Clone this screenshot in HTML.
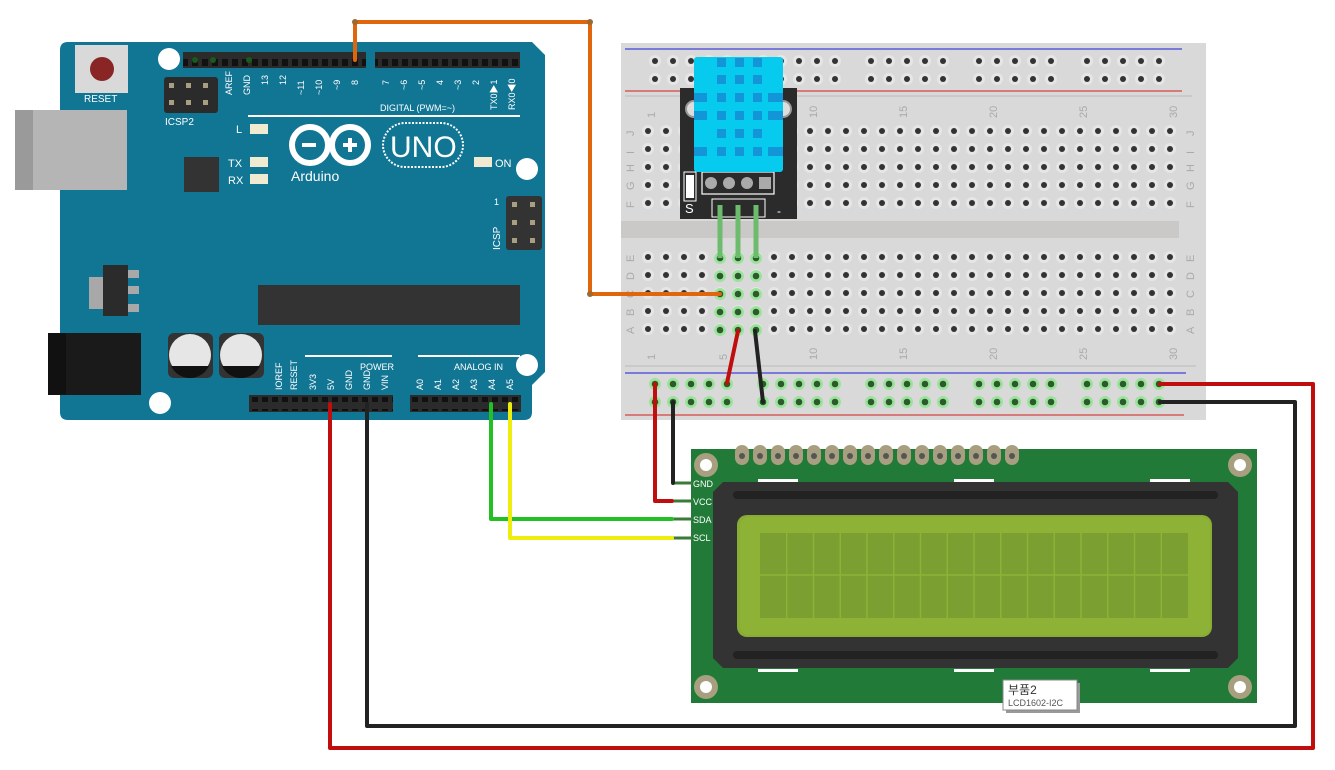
<!DOCTYPE html>
<html><head><meta charset="utf-8"><style>
html,body{margin:0;padding:0;background:#fff;}
svg{display:block;}
text{font-family:"Liberation Sans","Noto Sans CJK KR",sans-serif;}
</style></head><body>
<svg width="1335" height="770" viewBox="0 0 1335 770" xmlns="http://www.w3.org/2000/svg">
<defs>
<pattern id="h" x="639" y="122" width="18" height="18" patternUnits="userSpaceOnUse">
 <circle cx="9" cy="9" r="6" fill="#e6e6e6"/><circle cx="9" cy="9" r="3" fill="#333"/>
</pattern>
<pattern id="r" x="646" y="52" width="108" height="18" patternUnits="userSpaceOnUse">
 <g fill="#e6e6e6"><circle cx="9" cy="9" r="6"/><circle cx="27" cy="9" r="6"/><circle cx="45" cy="9" r="6"/><circle cx="63" cy="9" r="6"/><circle cx="81" cy="9" r="6"/></g>
 <g fill="#333"><circle cx="9" cy="9" r="3"/><circle cx="27" cy="9" r="3"/><circle cx="45" cy="9" r="3"/><circle cx="63" cy="9" r="3"/><circle cx="81" cy="9" r="3"/></g>
</pattern>
<pattern id="rg" x="646" y="375" width="108" height="18" patternUnits="userSpaceOnUse">
 <g fill="#9be39b"><circle cx="9" cy="9" r="6"/><circle cx="27" cy="9" r="6"/><circle cx="45" cy="9" r="6"/><circle cx="63" cy="9" r="6"/><circle cx="81" cy="9" r="6"/></g>
 <g fill="#2d5a2d"><circle cx="9" cy="9" r="3.3"/><circle cx="27" cy="9" r="3.3"/><circle cx="45" cy="9" r="3.3"/><circle cx="63" cy="9" r="3.3"/><circle cx="81" cy="9" r="3.3"/></g>
</pattern>
<pattern id="gh" x="711" y="249" width="18" height="18" patternUnits="userSpaceOnUse">
 <circle cx="9" cy="9" r="6" fill="#9be39b"/><circle cx="9" cy="9" r="3.3" fill="#2d5a2d"/>
</pattern>
<pattern id="pin" x="0" y="0" width="10" height="14" patternUnits="userSpaceOnUse">
 <rect x="2" y="3" width="6" height="7" fill="#111"/>
</pattern>
</defs>

<!-- breadboard -->
<rect x="621" y="43" width="585" height="377" fill="#d9d9d9"/>
<line x1="625" y1="49" x2="1182" y2="49" stroke="#1a1adc" stroke-width="1"/>
<line x1="625" y1="91" x2="1182" y2="91" stroke="#d41a1a" stroke-width="1"/>
<line x1="625" y1="96" x2="1192" y2="96" stroke="#bbb" stroke-width="1"/>
<rect x="646" y="52" width="530" height="36" fill="url(#r)"/>
<rect x="621" y="221" width="558" height="17" fill="#cbc9c7"/>
<rect x="639" y="122" width="540" height="90" fill="url(#h)"/>
<rect x="639" y="249" width="540" height="90" fill="url(#h)"/>
<rect x="711" y="249" width="54" height="90" fill="url(#gh)"/>
<line x1="625" y1="366" x2="1196" y2="366" stroke="#bbb" stroke-width="1"/>
<line x1="625" y1="373" x2="1186" y2="373" stroke="#1a1adc" stroke-width="1"/>
<line x1="625" y1="415" x2="1184" y2="415" stroke="#d41a1a" stroke-width="1"/>
<rect x="646" y="375" width="530" height="36" fill="url(#rg)"/>
<g fill="#aaa" font-size="11">
 <g transform="translate(655,118) rotate(-90)"><text>1</text></g>
 <g transform="translate(727,118) rotate(-90)"><text>5</text></g>
 <g transform="translate(817,118) rotate(-90)"><text>10</text></g>
 <g transform="translate(907,118) rotate(-90)"><text>15</text></g>
 <g transform="translate(997,118) rotate(-90)"><text>20</text></g>
 <g transform="translate(1087,118) rotate(-90)"><text>25</text></g>
 <g transform="translate(1177,118) rotate(-90)"><text>30</text></g>
 <g transform="translate(655,360) rotate(-90)"><text>1</text></g>
 <g transform="translate(727,360) rotate(-90)"><text>5</text></g>
 <g transform="translate(817,360) rotate(-90)"><text>10</text></g>
 <g transform="translate(907,360) rotate(-90)"><text>15</text></g>
 <g transform="translate(997,360) rotate(-90)"><text>20</text></g>
 <g transform="translate(1087,360) rotate(-90)"><text>25</text></g>
 <g transform="translate(1177,360) rotate(-90)"><text>30</text></g>
 <g transform="translate(634,136) rotate(-90)"><text>J</text></g>
 <g transform="translate(634,154) rotate(-90)"><text>I</text></g>
 <g transform="translate(634,172) rotate(-90)"><text>H</text></g>
 <g transform="translate(634,190) rotate(-90)"><text>G</text></g>
 <g transform="translate(634,208) rotate(-90)"><text>F</text></g>
 <g transform="translate(634,262) rotate(-90)"><text>E</text></g>
 <g transform="translate(634,280) rotate(-90)"><text>D</text></g>
 <g transform="translate(634,298) rotate(-90)"><text>C</text></g>
 <g transform="translate(634,316) rotate(-90)"><text>B</text></g>
 <g transform="translate(634,334) rotate(-90)"><text>A</text></g>
 <g transform="translate(1194,136) rotate(-90)"><text>J</text></g>
 <g transform="translate(1194,154) rotate(-90)"><text>I</text></g>
 <g transform="translate(1194,172) rotate(-90)"><text>H</text></g>
 <g transform="translate(1194,190) rotate(-90)"><text>G</text></g>
 <g transform="translate(1194,208) rotate(-90)"><text>F</text></g>
 <g transform="translate(1194,262) rotate(-90)"><text>E</text></g>
 <g transform="translate(1194,280) rotate(-90)"><text>D</text></g>
 <g transform="translate(1194,298) rotate(-90)"><text>C</text></g>
 <g transform="translate(1194,316) rotate(-90)"><text>B</text></g>
 <g transform="translate(1194,334) rotate(-90)"><text>A</text></g>
</g>

<!-- DHT module -->
<rect x="680" y="88" width="117" height="131" fill="#2b2b2b"/>
<circle cx="694" cy="109" r="8" fill="#ddd" stroke="#999" stroke-width="2"/>
<circle cx="783" cy="109" r="8" fill="#ddd" stroke="#999" stroke-width="2"/>
<rect x="702" y="172" width="72" height="22" fill="none" stroke="#fff" stroke-width="1.2"/>
<circle cx="711" cy="183" r="6" fill="#aaa"/><circle cx="729" cy="183" r="6" fill="#aaa"/><circle cx="747" cy="183" r="6" fill="#aaa"/><rect x="759" y="177" width="12" height="12" fill="#aaa"/>
<rect x="684" y="172" width="12" height="29" fill="none" stroke="#fff" stroke-width="1"/>
<rect x="686" y="175" width="8" height="23" fill="#fff"/>
<text x="685" y="213" fill="#fff" font-size="13">S</text>
<text x="777" y="215" fill="#fff" font-size="12">-</text>
<rect x="712" y="199" width="53" height="18" fill="none" stroke="#fff" stroke-width="1"/>
<rect x="694" y="57" width="89" height="115" rx="3" fill="#06cbee"/>
<g fill="#1296d8">
 <rect x="717" y="58" width="9" height="9"/><rect x="735" y="58" width="9" height="9"/><rect x="753" y="58" width="9" height="9"/>
 <rect x="717" y="75" width="9" height="9"/><rect x="735" y="75" width="9" height="9"/><rect x="753" y="75" width="9" height="9"/>
 <rect x="694" y="93" width="13" height="9"/><rect x="717" y="93" width="9" height="9"/><rect x="735" y="93" width="9" height="9"/><rect x="753" y="93" width="9" height="9"/><rect x="768" y="93" width="15" height="9"/>
 <rect x="694" y="111" width="13" height="9"/><rect x="717" y="111" width="9" height="9"/><rect x="735" y="111" width="9" height="9"/><rect x="753" y="111" width="9" height="9"/><rect x="768" y="111" width="15" height="9"/>
 <rect x="717" y="129" width="9" height="9"/><rect x="735" y="129" width="9" height="9"/><rect x="753" y="129" width="9" height="9"/>
 <rect x="694" y="147" width="13" height="9"/><rect x="717" y="147" width="9" height="9"/><rect x="735" y="147" width="9" height="9"/><rect x="753" y="147" width="9" height="9"/><rect x="768" y="147" width="15" height="9"/>
</g>
<g stroke="#6dbb6d" stroke-width="5"><line x1="720" y1="205" x2="720" y2="258"/><line x1="738" y1="205" x2="738" y2="258"/><line x1="756" y1="205" x2="756" y2="258"/></g>

<!-- Arduino -->
<path d="M68,42 L532,42 L545,55 L545,372 L532,385 L532,412 Q532,420 524,420 L68,420 Q60,420 60,412 L60,50 Q60,42 68,42 Z" fill="#117594"/>
<circle cx="169" cy="59" r="11" fill="#fff"/><circle cx="527" cy="169" r="11" fill="#fff"/><circle cx="527" cy="365" r="11" fill="#fff"/><circle cx="160" cy="403" r="11" fill="#fff"/>
<rect x="75" y="45" width="53" height="48" fill="#d9d9d9"/><circle cx="102" cy="69" r="12" fill="#8a2525"/>
<text x="84" y="102" fill="#fff" font-size="10">RESET</text>
<rect x="15" y="110" width="112" height="80" fill="#b5b5b5"/><rect x="15" y="110" width="18" height="80" fill="#9a9a9a"/>
<rect x="164" y="77" width="54" height="36" rx="3" fill="#2b2b2b"/>
<g fill="#a89f80"><rect x="169" y="83" width="5" height="5"/><rect x="186" y="83" width="5" height="5"/><rect x="203" y="83" width="5" height="5"/><rect x="169" y="100" width="5" height="5"/><rect x="186" y="100" width="5" height="5"/><rect x="203" y="100" width="5" height="5"/></g>
<text x="165" y="125" fill="#fff" font-size="10">ICSP2</text>
<rect x="183" y="52" width="183" height="16" fill="#2b2b2b"/>
<rect x="183" y="53" width="183" height="14" fill="url(#pin)"/>
<rect x="375" y="52" width="145" height="16" fill="#2b2b2b"/>
<rect x="375" y="53" width="145" height="14" fill="url(#pin)"/>
<g fill="#1a5a1a"><circle cx="195" cy="60" r="3"/><circle cx="213" cy="60" r="3"/><circle cx="249" cy="60" r="3"/></g>
<g fill="#fff" font-size="9">
<g transform="translate(232,95) rotate(-90)"><text>AREF</text></g>
<g transform="translate(250,95) rotate(-90)"><text>GND</text></g>
<g transform="translate(268,85) rotate(-90)"><text>13</text></g>
<g transform="translate(286,85) rotate(-90)"><text>12</text></g>
<g transform="translate(304,95) rotate(-90)"><text>~11</text></g>
<g transform="translate(322,95) rotate(-90)"><text>~10</text></g>
<g transform="translate(340,90) rotate(-90)"><text>~9</text></g>
<g transform="translate(358,85) rotate(-90)"><text>8</text></g>
<g transform="translate(389,85) rotate(-90)"><text>7</text></g>
<g transform="translate(407,90) rotate(-90)"><text>~6</text></g>
<g transform="translate(425,90) rotate(-90)"><text>~5</text></g>
<g transform="translate(443,85) rotate(-90)"><text>4</text></g>
<g transform="translate(461,90) rotate(-90)"><text>~3</text></g>
<g transform="translate(479,85) rotate(-90)"><text>2</text></g>
<g transform="translate(497,110) rotate(-90)"><text>TX0▶1</text></g>
<g transform="translate(515,110) rotate(-90)"><text>RX0◀0</text></g>
<text x="380" y="111">DIGITAL (PWM=~)</text>
</g>
<line x1="248" y1="116" x2="520" y2="116" stroke="#fff" stroke-width="2"/>
<text x="236" y="133" fill="#fff" font-size="11">L</text><rect x="250" y="124" width="18" height="10" fill="#f0ead0"/>
<text x="228" y="167" fill="#fff" font-size="11">TX</text><rect x="250" y="157" width="18" height="10" fill="#f0ead0"/>
<text x="228" y="184" fill="#fff" font-size="11">RX</text><rect x="250" y="174" width="18" height="10" fill="#f0ead0"/>
<rect x="184" y="157" width="35" height="35" fill="#333"/>
<circle cx="310" cy="145" r="18" fill="none" stroke="#fff" stroke-width="6"/>
<circle cx="350" cy="145" r="18" fill="none" stroke="#fff" stroke-width="6"/>
<rect x="302" y="143" width="14" height="4" fill="#fff"/><rect x="343" y="143" width="14" height="4" fill="#fff"/><rect x="348" y="138" width="4" height="14" fill="#fff"/>
<text x="291" y="181" fill="#fff" font-size="14">Arduino</text>
<rect x="383" y="123" width="80" height="44" rx="22" fill="none" stroke="#fff" stroke-width="2" stroke-dasharray="2,1.5"/>
<text x="390" y="157" fill="#fff" font-size="30">UNO</text>
<rect x="474" y="157" width="18" height="10" fill="#f0ead0"/><text x="495" y="167" fill="#fff" font-size="11">ON</text>
<rect x="506" y="196" width="36" height="54" rx="3" fill="#333"/>
<g fill="#a89f80"><rect x="512" y="202" width="5" height="5"/><rect x="530" y="202" width="5" height="5"/><rect x="512" y="220" width="5" height="5"/><rect x="530" y="220" width="5" height="5"/><rect x="512" y="238" width="5" height="5"/><rect x="530" y="238" width="5" height="5"/></g>
<text x="494" y="205" fill="#fff" font-size="9">1</text>
<g transform="translate(500,250) rotate(-90)"><text fill="#fff" font-size="10">ICSP</text></g>
<rect x="89" y="277" width="14" height="32" fill="#a8a8a8"/><rect x="103" y="265" width="25" height="51" fill="#2b2b2b"/>
<g fill="#a8a8a8"><rect x="128" y="270" width="11" height="8"/><rect x="128" y="286" width="11" height="8"/><rect x="128" y="304" width="11" height="8"/></g>
<rect x="48" y="333" width="93" height="62" fill="#1a1a1a"/><rect x="48" y="333" width="18" height="62" fill="#111"/>
<rect x="258" y="285" width="262" height="40" fill="#333"/>
<rect x="168" y="333" width="45" height="45" rx="6" fill="#333"/><circle cx="190" cy="355" r="21" fill="#e6e6e6"/><path d="M171,366 L209,366 A21,21 0 0 1 171,366Z" fill="#111"/>
<rect x="219" y="333" width="45" height="45" rx="6" fill="#333"/><circle cx="241" cy="355" r="21" fill="#e6e6e6"/><path d="M222,366 L260,366 A21,21 0 0 1 222,366Z" fill="#111"/>
<line x1="305" y1="356" x2="392" y2="356" stroke="#fff" stroke-width="2"/><line x1="418" y1="356" x2="520" y2="356" stroke="#fff" stroke-width="2"/>
<g fill="#fff" font-size="9">
<text x="360" y="370">POWER</text><text x="454" y="370">ANALOG IN</text>
<g transform="translate(282,390) rotate(-90)"><text>IOREF</text></g>
<g transform="translate(297,390) rotate(-90)"><text>RESET</text></g>
<g transform="translate(316,390) rotate(-90)"><text>3V3</text></g>
<g transform="translate(334,390) rotate(-90)"><text>5V</text></g>
<g transform="translate(352,390) rotate(-90)"><text>GND</text></g>
<g transform="translate(370,390) rotate(-90)"><text>GND</text></g>
<g transform="translate(388,390) rotate(-90)"><text>VIN</text></g>
<g transform="translate(423,390) rotate(-90)"><text>A0</text></g>
<g transform="translate(441,390) rotate(-90)"><text>A1</text></g>
<g transform="translate(459,390) rotate(-90)"><text>A2</text></g>
<g transform="translate(477,390) rotate(-90)"><text>A3</text></g>
<g transform="translate(495,390) rotate(-90)"><text>A4</text></g>
<g transform="translate(513,390) rotate(-90)"><text>A5</text></g>
</g>
<rect x="249" y="395" width="144" height="17" fill="#2b2b2b"/><rect x="251" y="397" width="142" height="14" fill="url(#pin)"/>
<rect x="410" y="395" width="111" height="17" fill="#2b2b2b"/><rect x="412" y="397" width="108" height="14" fill="url(#pin)"/>

<!-- LCD -->
<rect x="691" y="449" width="566" height="254" fill="#217a37"/>
<g fill="#a89f80">
<rect x="735" y="445" width="14" height="20" rx="7"/><rect x="753" y="445" width="14" height="20" rx="7"/><rect x="771" y="445" width="14" height="20" rx="7"/><rect x="789" y="445" width="14" height="20" rx="7"/><rect x="807" y="445" width="14" height="20" rx="7"/><rect x="825" y="445" width="14" height="20" rx="7"/><rect x="843" y="445" width="14" height="20" rx="7"/><rect x="861" y="445" width="14" height="20" rx="7"/><rect x="879" y="445" width="14" height="20" rx="7"/><rect x="897" y="445" width="14" height="20" rx="7"/><rect x="915" y="445" width="14" height="20" rx="7"/><rect x="933" y="445" width="14" height="20" rx="7"/><rect x="951" y="445" width="14" height="20" rx="7"/><rect x="969" y="445" width="14" height="20" rx="7"/><rect x="987" y="445" width="14" height="20" rx="7"/><rect x="1005" y="445" width="14" height="20" rx="7"/>
<circle cx="706" cy="465" r="12"/><circle cx="1240" cy="465" r="12"/><circle cx="706" cy="687" r="12"/><circle cx="1240" cy="687" r="12"/>
</g>
<g fill="#fff"><circle cx="706" cy="465" r="6"/><circle cx="1240" cy="465" r="6"/><circle cx="706" cy="687" r="6"/><circle cx="1240" cy="687" r="6"/></g>
<g fill="#555"><circle cx="742" cy="456" r="3"/><circle cx="760" cy="456" r="3"/><circle cx="778" cy="456" r="3"/><circle cx="796" cy="456" r="3"/><circle cx="814" cy="456" r="3"/><circle cx="832" cy="456" r="3"/><circle cx="850" cy="456" r="3"/><circle cx="868" cy="456" r="3"/><circle cx="886" cy="456" r="3"/><circle cx="904" cy="456" r="3"/><circle cx="922" cy="456" r="3"/><circle cx="940" cy="456" r="3"/><circle cx="958" cy="456" r="3"/><circle cx="976" cy="456" r="3"/><circle cx="994" cy="456" r="3"/><circle cx="1012" cy="456" r="3"/></g>
<g fill="#fff"><rect x="758" y="479" width="40" height="3"/><rect x="954" y="479" width="40" height="3"/><rect x="1150" y="479" width="40" height="3"/><rect x="758" y="669" width="40" height="3"/><rect x="954" y="669" width="40" height="3"/><rect x="1150" y="669" width="40" height="3"/></g>
<path d="M723,482 L1228,482 L1238,492 L1238,658 L1228,668 L723,668 L713,658 L713,492 Z" fill="#333"/>
<rect x="733" y="491" width="485" height="8" rx="4" fill="#222"/><rect x="733" y="651" width="485" height="8" rx="4" fill="#222"/>
<rect x="737" y="515" width="475" height="122" rx="10" fill="#87ad34"/>
<rect x="740" y="517" width="470" height="118" rx="9" fill="#8db236"/>
<rect x="760" y="533" width="428" height="85" fill="#7c9f32"/>
<g stroke="#8db236" stroke-width="1.5">
<line x1="760" y1="575" x2="1188" y2="575"/>
<line x1="786.75" y1="533" x2="786.75" y2="618"/><line x1="813.5" y1="533" x2="813.5" y2="618"/><line x1="840.25" y1="533" x2="840.25" y2="618"/><line x1="867" y1="533" x2="867" y2="618"/><line x1="893.75" y1="533" x2="893.75" y2="618"/><line x1="920.5" y1="533" x2="920.5" y2="618"/><line x1="947.25" y1="533" x2="947.25" y2="618"/><line x1="974" y1="533" x2="974" y2="618"/><line x1="1000.75" y1="533" x2="1000.75" y2="618"/><line x1="1027.5" y1="533" x2="1027.5" y2="618"/><line x1="1054.25" y1="533" x2="1054.25" y2="618"/><line x1="1081" y1="533" x2="1081" y2="618"/><line x1="1107.75" y1="533" x2="1107.75" y2="618"/><line x1="1134.5" y1="533" x2="1134.5" y2="618"/><line x1="1161.25" y1="533" x2="1161.25" y2="618"/>
</g>
<g stroke="#3a7a3a" stroke-width="3"><line x1="672" y1="483" x2="692" y2="483"/><line x1="672" y1="501" x2="692" y2="501"/><line x1="672" y1="519" x2="692" y2="519"/><line x1="672" y1="538" x2="692" y2="538"/></g>
<g fill="#fff" font-size="9"><text x="693" y="487">GND</text><text x="693" y="505">VCC</text><text x="693" y="523">SDA</text><text x="693" y="541">SCL</text></g>
<rect x="1006" y="683" width="74" height="30" fill="#999"/>
<rect x="1003" y="680" width="74" height="30" fill="#fff" stroke="#888" stroke-width="1"/>
<text x="1008" y="694" font-size="12" fill="#333">부품2</text>
<text x="1008" y="706" font-size="9" fill="#555">LCD1602-I2C</text>

<!-- wires -->
<g fill="none" stroke-linejoin="round" stroke-linecap="round" stroke-width="4">
<polyline points="355,60 355,22 590,22 590,294 720,294" stroke="#e0660e"/>
<polyline points="330,404 330,748 1313,748 1313,384 1160,384" stroke="#c00d0d"/>
<polyline points="367,404 367,726 1295,726 1295,402 1160,402" stroke="#222"/>
<polyline points="491,404 491,519 672,519" stroke="#22c022"/>
<polyline points="510,404 510,538 672,538" stroke="#eded10"/>
<polyline points="655,384 655,501 672,501" stroke="#c00d0d"/>
<polyline points="673,402 673,483" stroke="#222"/>
<line x1="738" y1="331" x2="727" y2="383" stroke="#c00d0d"/>
<line x1="755" y1="331" x2="763" y2="402" stroke="#222"/>
</g>
<g fill="#9a6a30"><circle cx="355" cy="22" r="3"/><circle cx="590" cy="22" r="3"/><circle cx="590" cy="294" r="3"/></g>
</svg>
</body></html>
